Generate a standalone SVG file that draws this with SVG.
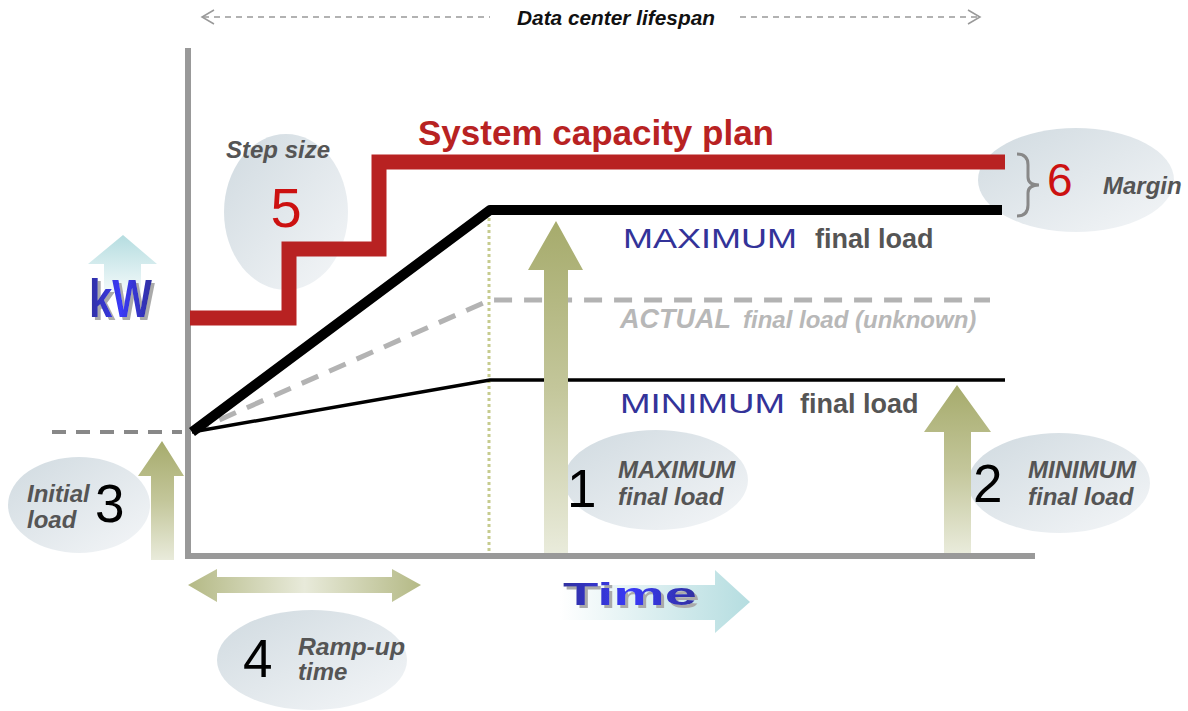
<svg xmlns="http://www.w3.org/2000/svg" width="1188" height="711" viewBox="0 0 1188 711">
<defs>
<linearGradient id="ell" x1="0" y1="0" x2="1" y2="1"><stop offset="0" stop-color="#d0dae0"/><stop offset="1" stop-color="#f4f6f8"/></linearGradient>
<linearGradient id="olv" x1="0" y1="0" x2="0" y2="1"><stop offset="0" stop-color="#a6ab6c"/><stop offset="0.5" stop-color="#c3c69a"/><stop offset="1" stop-color="#e9ebdb"/></linearGradient>
<linearGradient id="olh" x1="0" y1="0" x2="1" y2="0"><stop offset="0" stop-color="#b4b985"/><stop offset="0.5" stop-color="#e8eada"/><stop offset="1" stop-color="#b4b985"/></linearGradient>
<linearGradient id="cyv" x1="0" y1="0" x2="0" y2="1"><stop offset="0" stop-color="#b5dde0"/><stop offset="1" stop-color="#f2f9fa"/></linearGradient>
<linearGradient id="cyh" x1="0" y1="0" x2="1" y2="0"><stop offset="0" stop-color="#ffffff"/><stop offset="1" stop-color="#b5dde0"/></linearGradient>
<linearGradient id="blu" x1="0" y1="0" x2="1" y2="0"><stop offset="0" stop-color="#3030a0"/><stop offset="0.5" stop-color="#3a3af8"/><stop offset="1" stop-color="#3030a0"/></linearGradient>
<filter id="shd" x="-10%" y="-10%" width="130%" height="130%">
<feOffset in="SourceAlpha" dx="3" dy="3" result="o"/>
<feFlood flood-color="#aaaaaa"/>
<feComposite in2="o" operator="in" result="s"/>
<feMerge><feMergeNode in="s"/><feMergeNode in="SourceGraphic"/></feMerge>
</filter>
<style>
.lbl{font-family:"Liberation Sans",Arial,sans-serif;font-weight:bold;font-style:italic;fill:#555;font-size:24px}
.num{font-family:"Liberation Sans",Arial,sans-serif;font-size:53px;fill:#000}
.rnum{font-family:"Liberation Sans",Arial,sans-serif;fill:#cc1111}
.blu{font-family:"Liberation Sans",Arial,sans-serif;font-size:28px;fill:#333399}
.fl{font-family:"Liberation Sans",Arial,sans-serif;font-weight:bold;font-size:27px;fill:#555}
.act{font-family:"Liberation Sans",Arial,sans-serif;font-weight:bold;font-style:italic;fill:#b8b8b8}
.big{font-family:"Liberation Sans",Arial,sans-serif;font-weight:bold}
</style>
</defs>
<rect width="1188" height="711" fill="#fff"/>

<!-- ellipses (background) -->
<g id="ellipses">
<ellipse cx="286" cy="212" rx="62" ry="78" fill="url(#ell)"/>
<ellipse cx="1076" cy="180" rx="98" ry="52" fill="url(#ell)"/>
<ellipse cx="79" cy="505" rx="71" ry="48" fill="url(#ell)"/>
<ellipse cx="656" cy="480" rx="92" ry="50" fill="url(#ell)"/>
<ellipse cx="1059" cy="483" rx="91" ry="50" fill="url(#ell)"/>
<ellipse cx="312" cy="660" rx="95" ry="50" fill="url(#ell)"/>
</g>

<!-- lifespan -->
<g id="lifespan" fill="none" stroke="#999" stroke-width="1.5">
<line x1="203" y1="17" x2="490" y2="17" stroke-dasharray="6 5"/>
<line x1="740" y1="17" x2="978" y2="17" stroke-dasharray="6 5"/>
<path d="M214,10 L202,17 L214,24"/>
<path d="M968,10 L980,17 L968,24"/>
</g>
<text x="517" y="25" class="big" font-style="italic" font-size="20" fill="#111" textLength="198" lengthAdjust="spacingAndGlyphs">Data center lifespan</text>

<!-- axes -->
<g id="axes" stroke="#999" stroke-width="6" fill="none">
<line x1="188" y1="48" x2="188" y2="559"/>
<line x1="185" y1="556" x2="1035" y2="556"/>
</g>

<!-- connectors / lines -->
<g id="lines" fill="none">
<line x1="52" y1="432" x2="182" y2="432" stroke="#888" stroke-width="4" stroke-dasharray="14 10"/>
<line x1="489" y1="212" x2="489" y2="553" stroke="#c6cb8e" stroke-width="3" stroke-dasharray="3 3"/>
<polyline points="192,432 490,300 990,300" stroke="#b3b3b3" stroke-width="5" stroke-dasharray="18 12"/>
<polyline points="192,432 490,380 1005,380" stroke="#000" stroke-width="3.5"/>
<polyline points="192,432 490,210 1002,210" stroke="#000" stroke-width="10" stroke-linejoin="round"/>
<polyline points="190,318 289,318 289,249 379,249 379,162 1005,162" stroke="#b82222" stroke-width="15" stroke-linejoin="miter"/>
<path d="M1017,154 Q1028,154 1028,165 L1028,177 Q1028,185 1039,185 Q1028,185 1028,193 L1028,205 Q1028,216 1017,216" stroke="#888" stroke-width="3"/>
</g>

<!-- arrows -->
<g id="arrow1"><polygon points="556,221 583,270 568,270 568,553 544,553 544,270 528,270" fill="url(#olv)"/></g>
<g id="arrow2"><polygon points="957,385 991,432 971,432 971,553 944,553 944,432 924,432" fill="url(#olv)"/></g>
<g id="arrow3"><polygon points="162,441 184,476 174,476 174,560 151,560 151,476 138,476" fill="url(#olv)"/></g>
<g id="arrow4"><polygon points="188,585 217,569 217,577 392,577 392,569 421,585 392,602 392,593 217,593 217,602" fill="url(#olh)"/></g>

<!-- kW -->
<g id="kw">
<polygon points="123,235 157,264 141,264 141,292 104,292 104,264 88,264" fill="url(#cyv)"/>
<text x="89" y="317" class="big" font-size="53" fill="url(#blu)" filter="url(#shd)" textLength="63" lengthAdjust="spacingAndGlyphs">kW</text>
</g>

<!-- Time -->
<g id="time">
<polygon points="560,585 715,585 715,570 750,602 715,633 715,620 560,620" fill="url(#cyh)"/>
<text x="563" y="605" class="big" font-size="31" fill="url(#blu)" filter="url(#shd)" textLength="134" lengthAdjust="spacingAndGlyphs">Time</text>
</g>

<!-- labels -->
<g id="title"><text x="418" y="145" class="big" font-size="35" fill="#b82222">System capacity plan</text></g>
<g id="n5">
<text x="226" y="158" class="lbl">Step size</text>
<text x="286" y="227" class="rnum" font-size="56" text-anchor="middle">5</text>
</g>
<g id="n6">
<text x="1047" y="196" class="rnum" font-size="46">6</text>
<text x="1103" y="194" class="lbl">Margin</text>
</g>
<g id="maxlab">
<text x="623" y="248" class="blu" textLength="174" lengthAdjust="spacingAndGlyphs">MAXIMUM</text>
<text x="815" y="248" class="fl">final load</text>
</g>
<g id="actlab">
<text x="620" y="328" class="act" font-size="27">ACTUAL</text>
<text x="743" y="328" class="act" font-size="24">final load (unknown)</text>
</g>
<g id="minlab">
<text x="620" y="413" class="blu" textLength="165" lengthAdjust="spacingAndGlyphs">MINIMUM</text>
<text x="800" y="413" class="fl">final load</text>
</g>
<g id="n1">
<text x="567" y="507" class="num" font-size="58">1</text>
<text x="618" y="478" class="lbl">MAXIMUM</text>
<text x="618" y="505" class="lbl">final load</text>
</g>
<g id="n2">
<text x="973" y="502" class="num">2</text>
<text x="1028" y="478" class="lbl">MINIMUM</text>
<text x="1028" y="505" class="lbl">final load</text>
</g>
<g id="n3">
<text x="95" y="522" class="num" font-size="52">3</text>
<text x="27" y="502" class="lbl">Initial</text>
<text x="27" y="528" class="lbl">load</text>
</g>
<g id="n4">
<text x="243" y="677" class="num" font-size="52">4</text>
<text x="298" y="655" class="lbl" font-size="22" textLength="107" lengthAdjust="spacingAndGlyphs">Ramp-up</text>
<text x="298" y="680" class="lbl" font-size="22">time</text>
</g>
</svg>
